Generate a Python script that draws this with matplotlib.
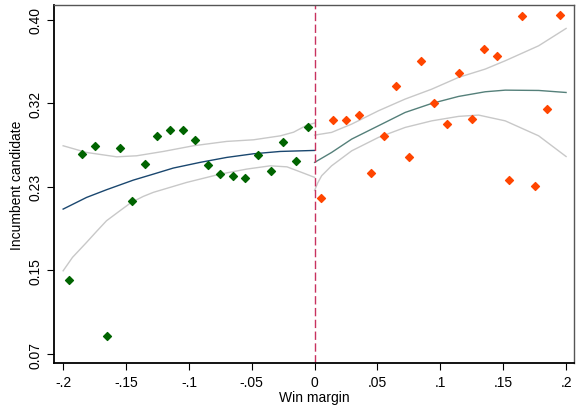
import matplotlib.pyplot as plt

plt.rcParams['font.family'] = ['Liberation Sans', 'DejaVu Sans']

# binned means of incumbent candidacy, losers (left) and winners (right)
x_left = [-0.195, -0.185, -0.175, -0.165, -0.155, -0.145, -0.135, -0.125, -0.115, -0.105,
          -0.095, -0.085, -0.075, -0.065, -0.055, -0.045, -0.035, -0.025, -0.015, -0.005]
y_left = [0.143, 0.267, 0.275, 0.088, 0.273, 0.221, 0.258, 0.285, 0.291, 0.291,
          0.281, 0.257, 0.248, 0.246, 0.244, 0.266, 0.251, 0.279, 0.261, 0.294]

x_right = [0.005, 0.015, 0.025, 0.035, 0.045, 0.055, 0.065, 0.075, 0.085, 0.095,
           0.105, 0.115, 0.125, 0.135, 0.145, 0.155, 0.165, 0.175, 0.185, 0.195]
y_right = [0.224, 0.301, 0.301, 0.306, 0.249, 0.285, 0.335, 0.265, 0.359, 0.318,
           0.297, 0.347, 0.302, 0.371, 0.364, 0.242, 0.404, 0.236, 0.312, 0.405]

# quadratic fits and 95% bands (estimated on the underlying elections)
fit_left_x = [-0.2, -0.1814, -0.1655, -0.1442, -0.1283, -0.1124, -0.0911, -0.0699, -0.0486, -0.0273, 0]
fit_left_y = [0.2131, 0.2246, 0.2322, 0.2417, 0.2476, 0.2536, 0.2592, 0.2641, 0.2677, 0.2700, 0.2710]

hi_left_x = [-0.2, -0.1814, -0.1575, -0.1416, -0.1203, -0.0964, -0.0699, -0.0486, -0.0273, -0.0167,
             -0.0061, 0]
hi_left_y = [0.2756, 0.2690, 0.2647, 0.2657, 0.2700, 0.2756, 0.2799, 0.2815, 0.2854, 0.2890,
             0.2960, 0.2980]

lo_left_x = [-0.2, -0.1926, -0.1814, -0.1734, -0.1655, -0.1549, -0.146, -0.1363, -0.1283, -0.1018,
             -0.0752, -0.0539, -0.0353, -0.022, -0.0088, 0]
lo_left_y = [0.1522, 0.1654, 0.1802, 0.1911, 0.2016, 0.2114, 0.2195, 0.2256, 0.2296, 0.2394,
             0.2476, 0.2526, 0.2558, 0.2548, 0.2486, 0.2444]

fit_right_x = [0, 0.0135, 0.0295, 0.0507, 0.072, 0.0932, 0.1145, 0.1357, 0.1516, 0.1782, 0.2]
fit_right_y = [0.2592, 0.2690, 0.2822, 0.2953, 0.3085, 0.3174, 0.3243, 0.3289, 0.3305, 0.3302, 0.3282]

hi_right_x = [0, 0.0135, 0.0295, 0.0507, 0.072, 0.0932, 0.1145, 0.1357, 0.1516, 0.1782, 0.2]
hi_right_y = [0.2861, 0.2888, 0.2970, 0.3101, 0.3217, 0.3315, 0.3431, 0.3513, 0.3595, 0.3743, 0.3914]

lo_right_x = [0, 0.0025, 0.0056, 0.0135, 0.0295, 0.0507, 0.072, 0.0932, 0.1145, 0.1304, 0.1516,
              0.1782, 0.2]
lo_right_y = [0.2315, 0.2390, 0.2460, 0.2558, 0.2706, 0.2838, 0.2937, 0.3002, 0.3046, 0.3059, 0.3002,
              0.2854, 0.2650]

xtick_vals = [-0.2, -0.15, -0.1, -0.05, 0, 0.05, 0.1, 0.15, 0.2]
xtick_labels = ['-.2', '-.15', '-.1', '-.05', '0', '.05', '.1', '.15', '.2']
ytick_vals = [0.07, 0.1525, 0.235, 0.3175, 0.40]
ytick_labels = ['0.07', '0.15', '0.23', '0.32', '0.40']

fig, ax = plt.subplots(figsize=(5.79, 4.10), dpi=100)
fig.subplots_adjust(left=0.093, right=0.992, top=0.985, bottom=0.112)

band = '#c8c8c8'
ax.plot(hi_left_x, hi_left_y, color=band, lw=1)
ax.plot(lo_left_x, lo_left_y, color=band, lw=1)
ax.plot(hi_right_x, hi_right_y, color=band, lw=1)
ax.plot(lo_right_x, lo_right_y, color=band, lw=1)
ax.plot(fit_left_x, fit_left_y, color='#1a476f', lw=1)
ax.plot(fit_right_x, fit_right_y, color='#55807a', lw=1)

ax.scatter(x_left, y_left, marker='D', s=16, color='#006400', zorder=3)
ax.scatter(x_right, y_right, marker='D', s=16, color='#ff4500', zorder=3)

ax.axvline(0, color='#c8325f', lw=1, ls=(0, (6, 2.5)))

ax.set_xlim(-0.2074, 0.2066)
ax.set_ylim(0.0611, 0.4144)
ax.set_xticks(xtick_vals)
ax.set_xticklabels(xtick_labels)
ax.set_yticks(ytick_vals)
ax.set_yticklabels(ytick_labels, rotation=90, va='center')
ax.tick_params(direction='out', length=5, labelsize=10, color='black')

for side in ['top', 'right']:
    ax.spines[side].set_color('#555555')
    ax.spines[side].set_linewidth(1)
for side in ['left', 'bottom']:
    ax.spines[side].set_color('black')
    ax.spines[side].set_linewidth(1.3)

ax.set_xlabel('Win margin', fontsize=10, labelpad=1)
ax.set_ylabel('Incumbent candidate', fontsize=10, labelpad=3)

fig.savefig('out.png', dpi=100)
